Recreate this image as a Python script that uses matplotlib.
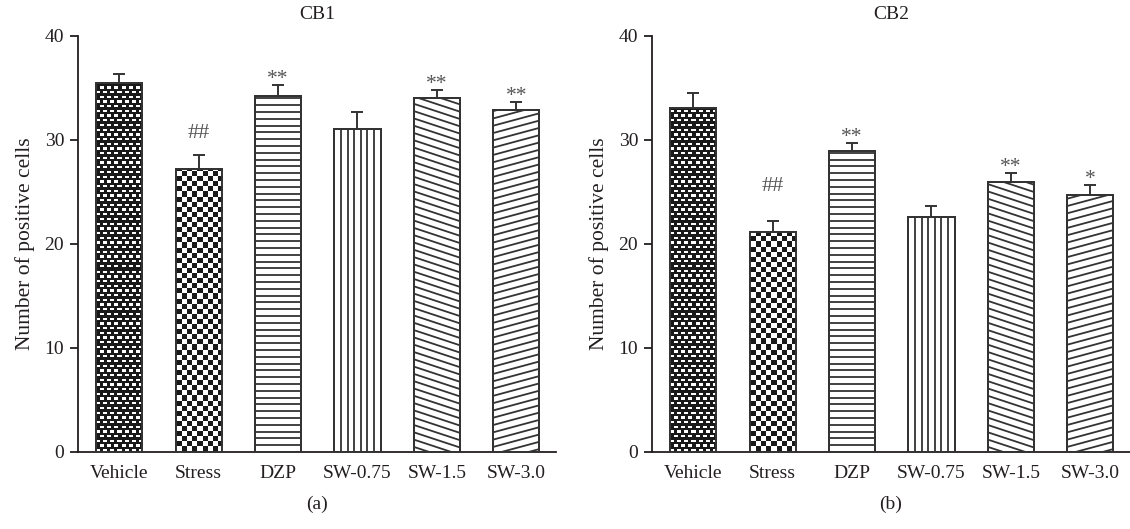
import numpy as np
import matplotlib
matplotlib.use("Agg")
import matplotlib.pyplot as plt
from matplotlib.collections import LineCollection

# ---------------- data ----------------
groups = ['Vehicle', 'Stress', 'DZP', 'SW-0.75', 'SW-1.5', 'SW-3.0']
cb1_mean = [35.5, 27.2, 34.2, 31.1, 34.0, 32.9]
cb1_err = [0.8, 1.4, 1.1, 1.6, 0.8, 0.8]
cb1_sig = ['', '##', '**', '', '**', '**']
cb2_mean = [33.1, 21.2, 28.9, 22.6, 26.0, 24.7]
cb2_err = [1.45, 1.0, 0.8, 1.05, 0.85, 1.0]
cb2_sig = ['', '##', '**', '', '**', '*']
titles = ['CB1', 'CB2']
panel_tags = ['(a)', '(b)']
y_ticks = [0, 10, 20, 30, 40]
ylabel = 'Number of positive cells'

# ---------------- style ----------------
plt.rcParams['font.family'] = ['Liberation Serif', 'DejaVu Serif']
INK = '#231f20'
EDGE = '#333333'
FS = 14
patterns = ['brick', 'checker', 'hlines', 'vlines', 'down', 'up']

fig = plt.figure(figsize=(11.3, 5.29), dpi=100)
W, H = 1130, 529
axes_pos = [[78 / W, 1 - 452 / H, 478 / W, 416 / H],
            [652 / W, 1 - 452 / H, 478 / W, 416 / H]]
hash_offsets = [12, 22]  # points above error bar for '##'


def px_scale(ax):
    p0 = ax.transData.transform((0, 0))
    p1 = ax.transData.transform((1, 1))
    return p1[0] - p0[0], p1[1] - p0[1]


def add_texture(ax, patch, kind):
    sx, sy = px_scale(ax)
    x0, w, h = patch.get_x(), patch.get_width(), patch.get_height()
    wpx, hpx = int(round(w * sx)), int(round(h * sy))
    if kind in ('brick', 'checker'):
        yy, xx = np.mgrid[0:hpx, 0:wpx]
        yy = hpx - 1 - yy  # from bottom
        img = np.zeros((hpx, wpx, 3)) + 0.1
        if kind == 'brick':
            row = (yy // 2.35).astype(int)
            white_row = (row % 2 == 0)
            shift = np.where((row // 2) % 2 == 0, 0, 3.5)
            white_col = ((xx + shift) % 7.0) < 4.0
            mask = white_row & white_col
        else:
            mask = ((xx // 5.1).astype(int) + (yy // 5.1).astype(int)) % 2 == 0
        img[mask] = 1.0
        im = ax.imshow(img, extent=(x0, x0 + w, 0, h), origin='upper',
                       interpolation='nearest', aspect='auto', zorder=2)
        im.set_clip_path(patch)
        return
    segs = []
    lw = 1.3
    if kind == 'hlines':
        step = 6.8
        for ypx in np.arange(step, hpx, step):
            segs.append([(x0, ypx / sy), (x0 + w, ypx / sy)])
    elif kind == 'vlines':
        step = wpx / 7.0
        for xpx in np.arange(step, wpx - 1, step):
            segs.append([(x0 + xpx / sx, 0), (x0 + xpx / sx, h)])
    else:
        step = 7.3
        slope = -0.33 if kind == 'down' else 0.27  # pixel dy/dx
        for b in np.arange(-wpx, hpx + wpx, step):
            ya = b
            yb = b + slope * wpx
            segs.append([(x0, ya / sy), (x0 + w, yb / sy)])
    lc = LineCollection(segs, colors=EDGE, linewidths=lw, zorder=2)
    ax.add_collection(lc, autolim=False)
    lc.set_clip_path(patch)


datasets = [(cb1_mean, cb1_err, cb1_sig), (cb2_mean, cb2_err, cb2_sig)]
for k, (means, errs, sigs) in enumerate(datasets):
    ax = fig.add_axes(axes_pos[k])
    x = np.arange(len(groups))
    ax.set_xlim(-0.52, 5.5)
    ax.set_ylim(0, 40)
    bars = ax.bar(x, means, width=0.58, color='white', edgecolor=EDGE,
                  linewidth=1.4, zorder=1)
    for b, kind in zip(bars, patterns):
        add_texture(ax, b, kind)
    # outline on top
    ax.bar(x, means, width=0.58, color='none', edgecolor=EDGE,
           linewidth=1.4, zorder=3)
    ax.errorbar(x, means, yerr=[np.zeros(len(errs)), errs], fmt='none',
                ecolor=EDGE, elinewidth=1.4, capsize=4.3, capthick=1.4,
                zorder=4)
    ax.set_xlim(-0.52, 5.5)
    ax.set_ylim(0, 40)
    for xi, m, e, s in zip(x, means, errs, sigs):
        if not s:
            continue
        if s.startswith('#'):
            off, fs = hash_offsets[k], 16
        else:
            off, fs = 0.5, 15.5
        ax.annotate(s, (xi, m + e), xytext=(0, off), textcoords='offset points',
                    ha='center', va='baseline', fontsize=fs, color='#555555')
    ax.spines['top'].set_visible(False)
    ax.spines['right'].set_visible(False)
    for sp in ('left', 'bottom'):
        ax.spines[sp].set_linewidth(1.3)
        ax.spines[sp].set_color(INK)
    ax.set_yticks(y_ticks)
    ax.set_xticks(x)
    ax.set_xticklabels(groups)
    ax.tick_params(axis='x', length=0, pad=9, labelsize=FS, colors=INK)
    ax.tick_params(axis='y', length=6, width=1.3, direction='out', pad=4,
                   labelsize=FS, colors=INK)
    ax.set_ylabel(ylabel, fontsize=15.5, color=INK, labelpad=7)
    ax.set_title(titles[k], fontsize=FS, color=INK, pad=12)
    ax.text(0.5, -0.105, panel_tags[k], transform=ax.transAxes, ha='center',
            va='top', fontsize=FS, color=INK)

fig.savefig('out.png', dpi=100)
